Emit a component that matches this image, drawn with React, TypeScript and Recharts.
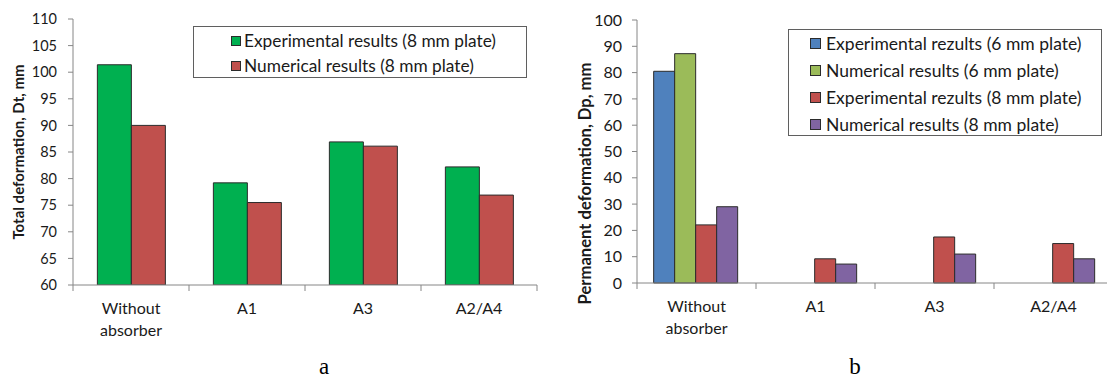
import React from 'react';
import { BarChart, Bar, XAxis, YAxis, Legend } from 'recharts';

const categories = ['Without absorber', 'A1', 'A3', 'A2/A4'];
const totalExp8 = [101.4, 79.2, 86.9, 82.2];
const totalNum8 = [90.0, 75.5, 86.1, 76.9];
const permExp6: (number | null)[] = [80.5, null, null, null];
const permNum6: (number | null)[] = [87.2, null, null, null];
const permExp8 = [22.1, 9.2, 17.5, 15.0];
const permNum8 = [29.0, 7.2, 11.0, 9.2];
const totalTicks = [60, 65, 70, 75, 80, 85, 90, 95, 100, 105, 110];
const permTicks = [0, 10, 20, 30, 40, 50, 60, 70, 80, 90, 100];
const totalSeriesNames = ['Experimental results (8 mm plate)', 'Numerical results (8 mm plate)'];
const permSeriesNames = [
  'Experimental rezults (6 mm plate)',
  'Numerical results (6 mm plate)',
  'Experimental rezults (8 mm plate)',
  'Numerical results (8 mm plate)',
];

const totalData = categories.map((c, i) => ({ cat: c, exp8: totalExp8[i], num8: totalNum8[i] }));
const permData = categories.map((c, i) => ({
  cat: c,
  exp6: permExp6[i],
  num6: permNum6[i],
  exp8: permExp8[i],
  num8: permNum8[i],
}));

const FONT = 'Lato, "Open Sans", sans-serif';
const AXIS = '#868686';
const TEXT = '#1a1a1a';
const BAR_STROKE = '#2b2b2b';

const CatTick = (props: any) => {
  const { x, y, payload, index, visibleTicksCount } = props;
  const off = payload && typeof payload.offset === 'number' ? payload.offset : 0;
  const lines = String(payload.value).split(' ');
  return (
    <g>
      <line x1={x - off} x2={x - off} y1={y} y2={y + 6} stroke={AXIS} />
      {index === visibleTicksCount - 1 && (
        <line x1={x + off} x2={x + off} y1={y} y2={y + 6} stroke={AXIS} />
      )}
      <text x={x} y={y + 29} textAnchor="middle" fill={TEXT} fontSize={16} fontFamily={FONT}>
        {lines.map((l, i) => (
          <tspan key={i} x={x} dy={i === 0 ? 0 : 22}>
            {l}
          </tspan>
        ))}
      </text>
    </g>
  );
};

const makeLegend =
  (
    order: string[],
    opt: { w: number; h: number; padL: number; padT: number; rowH: number; sw: number; gap: number; fs: number }
  ) =>
  (props: any) => {
    const raw = props.payload || [];
    const payload = order
      .map((n) => raw.find((p: any) => p.value === n))
      .filter(Boolean);
    return (
      <div
        style={{
          boxSizing: 'border-box',
          width: opt.w,
          height: opt.h,
          border: '1px solid #5f5f5f',
          background: '#fff',
          paddingLeft: opt.padL,
          paddingTop: opt.padT,
          fontFamily: FONT,
          fontSize: opt.fs,
          color: TEXT,
        }}
      >
        {payload.map((p: any, i: number) => (
          <div key={i} style={{ display: 'flex', alignItems: 'center', height: opt.rowH, whiteSpace: 'nowrap' }}>
            <span
              style={{
                display: 'inline-block',
                boxSizing: 'border-box',
                width: opt.sw,
                height: opt.sw,
                background: p.color,
                border: `1px solid ${BAR_STROKE}`,
                marginRight: opt.gap,
                flex: 'none',
              }}
            />
            <span>{p.value}</span>
          </div>
        ))}
      </div>
    );
  };

const leftLegend = makeLegend(totalSeriesNames, { w: 334, h: 52, padL: 37, padT: 1, rowH: 25, sw: 10, gap: 3, fs: 17.3 });
const rightLegend = makeLegend(permSeriesNames, { w: 314, h: 107, padL: 21, padT: 0, rowH: 27, sw: 11, gap: 5, fs: 17.5 });

const captionStyle: React.CSSProperties = {
  position: 'absolute',
  top: 354,
  width: 100,
  textAlign: 'center',
  fontFamily: '"Liberation Serif", "Times New Roman", serif',
  fontSize: 23,
  lineHeight: '25px',
  color: '#000',
};

export default function App() {
  return (
    <div
      style={{
        position: 'fixed',
        left: 0,
        top: 0,
        width: 1107,
        height: 381,
        overflow: 'hidden',
        background: '#fff',
        fontFamily: FONT,
      }}
    >
      <div style={{ position: 'absolute', left: 0, top: 0 }}>
        <BarChart
          width={560}
          height={381}
          data={totalData}
          margin={{ top: 19, right: 23, left: 0, bottom: 36 }}
          barCategoryGap="21%"
          barGap={0}
        >
          <XAxis
            dataKey="cat"
            height={60}
            interval={0}
            tickSize={0}
            tickMargin={0}
            tickLine={false}
            axisLine={{ stroke: AXIS }}
            tick={<CatTick />}
          />
          <XAxis xAxisId="top" orientation="top" dataKey="cat" height={0} tick={false} tickLine={false} axisLine={{ stroke: AXIS }} />
          <YAxis
            width={73}
            domain={[60, 110]}
            ticks={totalTicks}
            interval={0}
            allowDataOverflow
            tickSize={5}
            tickMargin={11}
            tickLine={{ stroke: AXIS }}
            axisLine={{ stroke: AXIS }}
            tick={{ fill: TEXT, fontSize: 14.5, fontFamily: FONT }}
            label={{
              value: 'Total deformation, Dt, mm',
              angle: -90,
              position: 'center',
              dx: -18,
              style: { fontWeight: 700, fontSize: 15, fill: TEXT, fontFamily: FONT, textAnchor: 'middle' },
            }}
          />
          <YAxis yAxisId="right" orientation="right" width={0} domain={[0, 1]} tick={false} tickLine={false} axisLine={{ stroke: AXIS }} />
          <Legend
            layout="vertical"
            align="center"
            verticalAlign="middle"
            content={leftLegend}
            wrapperStyle={{ left: 193, top: 26, width: 334, height: 52 }}
          />
          <Bar dataKey="exp8" name={totalSeriesNames[0]} fill="#00B050" stroke={BAR_STROKE} strokeWidth={1} isAnimationActive={false} />
          <Bar dataKey="num8" name={totalSeriesNames[1]} fill="#C0504D" stroke={BAR_STROKE} strokeWidth={1} isAnimationActive={false} />
        </BarChart>
      </div>

      <div style={{ position: 'absolute', left: 560, top: 0 }}>
        <BarChart
          width={560}
          height={381}
          data={permData}
          margin={{ top: 20, right: 7, left: 0, bottom: 38 }}
          barCategoryGap="14%"
          barGap={0}
        >
          <XAxis
            dataKey="cat"
            height={60}
            interval={0}
            tickSize={0}
            tickMargin={0}
            tickLine={false}
            axisLine={{ stroke: AXIS }}
            tick={<CatTick />}
          />
          <XAxis xAxisId="top" orientation="top" dataKey="cat" height={0} tick={false} tickLine={false} axisLine={{ stroke: AXIS }} />
          <YAxis
            width={77}
            domain={[0, 100]}
            ticks={permTicks}
            interval={0}
            tickSize={5}
            tickMargin={10}
            tickLine={{ stroke: AXIS }}
            axisLine={{ stroke: AXIS }}
            tick={{ fill: TEXT, fontSize: 16, fontFamily: FONT }}
            label={{
              value: 'Permanent deformation, Dp, mm',
              angle: -90,
              position: 'center',
              dx: -13.5,
              dy: 32,
              style: { fontWeight: 700, fontSize: 16.6, fill: TEXT, fontFamily: FONT, textAnchor: 'middle' },
            }}
          />
          <Legend
            layout="vertical"
            align="center"
            verticalAlign="middle"
            content={rightLegend}
            wrapperStyle={{ left: 228, top: 29, width: 314, height: 107 }}
          />
          <Bar dataKey="exp6" name={permSeriesNames[0]} fill="#4F81BD" stroke={BAR_STROKE} strokeWidth={1} isAnimationActive={false} />
          <Bar dataKey="num6" name={permSeriesNames[1]} fill="#9BBB59" stroke={BAR_STROKE} strokeWidth={1} isAnimationActive={false} />
          <Bar dataKey="exp8" name={permSeriesNames[2]} fill="#C0504D" stroke={BAR_STROKE} strokeWidth={1} isAnimationActive={false} />
          <Bar dataKey="num8" name={permSeriesNames[3]} fill="#8064A2" stroke={BAR_STROKE} strokeWidth={1} isAnimationActive={false} />
        </BarChart>
      </div>

      <div style={{ ...captionStyle, left: 274 }}>a</div>
      <div style={{ ...captionStyle, left: 805 }}>b</div>
    </div>
  );
}
